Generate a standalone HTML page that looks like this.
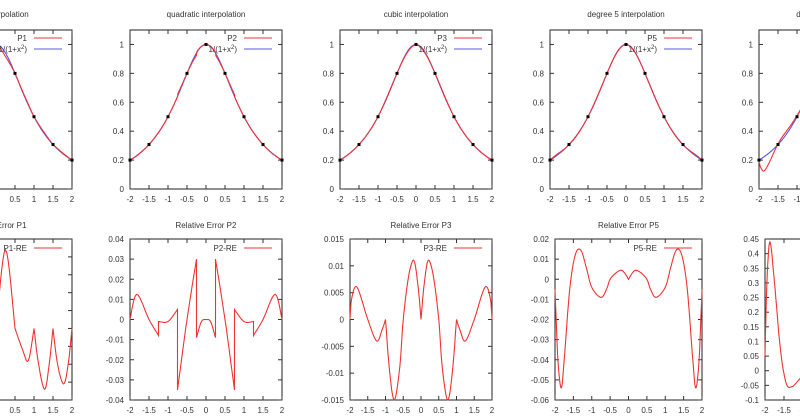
<!DOCTYPE html>
<html><head><meta charset="utf-8"><style>
html,body{margin:0;padding:0;background:#fff;width:800px;height:420px;overflow:hidden}
svg text{font-family:"Liberation Sans",sans-serif;font-size:8px;fill:#333}
</style></head><body>
<svg id="s" width="800" height="420" xmlns="http://www.w3.org/2000/svg"></svg>
<script>
(function(){
var S=document.getElementById('s'),h='';
function f(x){return 1/(1+x*x);}
function cc(a,b,c_,d,t){var t2=t*t,t3=t2*t;return 0.5*((2*b)+(-a+c_)*t+(2*a-5*b+4*c_-d)*t2+(-a+3*b-3*c_+d)*t3);}
function cr(pts,n){
  var out=[];
  for(var i=0;i<pts.length-1;i++){
    var p0=pts[Math.max(0,i-1)],p1=pts[i],p2=pts[i+1],p3=pts[Math.min(pts.length-1,i+2)];
    for(var k=0;k<n;k++){var t=k/n;
      out.push([cc(p0[0],p1[0],p2[0],p3[0],t),cc(p0[1],p1[1],p2[1],p3[1],t)]);}
  }
  out.push(pts[pts.length-1]);return out;
}
function mirror(segs){
  var r=segs.slice();
  for(var i=segs.length-1;i>=0;i--){r.push(segs[i].map(function(p){return[-p[0],p[1]];}).reverse());}
  return r;
}
var E={
 1:[[[-2,0],[-1.75,0.02],[-1.5,0]],[[-1.5,0],[-1.25,0.025],[-1,0]],[[-1,0],[-0.75,0.035],[-0.5,0]],[[-0.5,0],[-0.25,0.044],[0,0]],
    [[0,0],[0.25,0.044],[0.5,0]],[[0.5,0],[0.7,-0.012],[0.85,-0.018],[1,0]],[[1,0],[1.12,-0.02],[1.28,-0.034],[1.4,-0.02],[1.5,0]],[[1.5,0],[1.62,-0.02],[1.78,-0.031],[1.9,-0.02],[2,0]]],
 2:mirror([[[-2,0],[-1.82,0.0125],[-1.5,0],[-1.25,-0.008]],[[-1.25,-0.001],[-1,-0.001],[-0.75,0.005]],[[-0.75,-0.035],[-0.5,0],[-0.25,0.03]],[[-0.25,-0.009],[-0.12,-0.001],[0,0]]]),
 3:mirror([[[-2,0],[-1.95,0.004],[-1.8,0.006],[-1.5,0],[-1.25,-0.004],[-1.1,-0.002],[-1,0]],[[-1,0],[-0.88,-0.01],[-0.75,-0.015],[-0.6,-0.009],[-0.5,0],[-0.35,0.008],[-0.2,0.011],[-0.08,0.006],[0,0]]]),
 4:mirror([[[-2,-0.005],[-1.92,-0.04],[-1.83,-0.054],[-1.75,-0.04],[-1.6,-0.005],[-1.45,0.012],[-1.3,0.0145],[-1.15,0.006],[-1,-0.004],[-0.75,-0.009],[-0.6,-0.005],[-0.5,0],[-0.35,0.003],[-0.2,0.0045],[-0.1,0.003],[0,0]]]),
 5:[[[-2,0.05],[-1.95,0.3],[-1.87,0.44],[-1.75,0.3],[-1.6,0.08],[-1.45,-0.04],[-1.3,-0.055],[-1.1,-0.03],[-0.9,0.0],[-0.7,0.03],[-0.5,0.05]]]
};
var samp={};for(var k in E){samp[k]=E[k].map(function(s){return cr(s,8);});}
function evalE(id,x){
  var segs=samp[id];
  for(var i=0;i<segs.length;i++){var s=segs[i];
    if(x>=s[0][0]&&x<=s[s.length-1][0]){
      for(var j=0;j<s.length-1;j++){if(x>=s[j][0]&&x<=s[j+1][0]){var d=(s[j+1][0]-s[j][0])||1;var t=(x-s[j][0])/d;return s[j][1]+t*(s[j+1][1]-s[j][1]);}}
    }}
  return 0;
}
var names=['linear','quadratic','cubic','degree 5','degree 9'],lab=['P1','P2','P3','P5','P9'];
var tops=[[-80,72],[130,282],[340,492],[550,702],[759,911]];
var bots=[[-80,72],[130,282],[350,492],[555,702],[765,917]];
var brng=[[-0.04,0.05,0.01],[-0.04,0.04,0.01],[-0.015,0.015,0.005],[-0.06,0.02,0.01],[-0.1,0.45,0.05]];
function fmt(v){v=Math.round(v*1000)/1000;return (v+'');}
function frame(L,R,T,B,y0,y1,st,lbl){
  var g='';
  g+='<rect x="'+L+'" y="'+T+'" width="'+(R-L)+'" height="'+(B-T)+'" fill="none" stroke="#222" stroke-width="1"/>';
  for(var x=-2;x<=2.001;x+=0.5){var px=L+(x+2)/4*(R-L);
    g+='<line x1="'+px+'" y1="'+B+'" x2="'+px+'" y2="'+(B-4)+'" stroke="#333"/><line x1="'+px+'" y1="'+T+'" x2="'+px+'" y2="'+(T+4)+'" stroke="#333"/>';
    g+='<text x="'+px+'" y="'+(B+13)+'" text-anchor="middle">'+fmt(x)+'</text>';}
  var n=Math.round((y1-y0)/st);
  for(var i=0;i<=n;i++){var v=y0+i*st,py=B-(v-y0)/(y1-y0)*(B-T);
    if(lbl&&v>1.05)continue;
    g+='<line x1="'+L+'" y1="'+py+'" x2="'+(L+4)+'" y2="'+py+'" stroke="#333"/><line x1="'+R+'" y1="'+py+'" x2="'+(R-4)+'" y2="'+py+'" stroke="#333"/>';
    g+='<text x="'+(L-6)+'" y="'+(py+3)+'" text-anchor="end">'+fmt(v)+'</text>';}
  return g;
}
function path(pts,col){return '<polyline fill="none" stroke="'+col+'" stroke-width="1.1" points="'+pts.map(function(p){return p[0].toFixed(1)+','+p[1].toFixed(1);}).join(' ')+'"/>';}
for(var p=0;p<5;p++){
  var L=tops[p][0],R=tops[p][1],T=30,B=189,id=p+1;
  var X=function(x){return L+(x+2)/4*(R-L);},Y=function(y){return B-y/1.1*(B-T);};
  h+='<text x="'+((L+R)/2)+'" y="17" text-anchor="middle">'+names[p]+' interpolation</text>';
  h+=frame(L,R,T,B,0,1.1,0.2,true);
  var bl=[],rd=[];
  for(var i=0;i<=400;i++){var x=-2+i/100;bl.push([X(x),Y(f(x))]);rd.push([X(x),Y(f(x)*(1-evalE(id,x)*(p==4?1:0.6)))]);}
  h+=path(bl,'#5555ee')+path(rd,'#e33');
  for(var x=-2;x<=2.001;x+=0.5)h+='<rect x="'+(X(x)-1.5)+'" y="'+(Y(f(x))-1.5)+'" width="3" height="3" fill="#000"/>';
  h+='<text x="'+(R-45)+'" y="41" text-anchor="end">'+lab[p]+'</text><line x1="'+(R-38)+'" y1="38" x2="'+(R-10)+'" y2="38" stroke="#e33" stroke-width="1.1"/>';
  h+='<text x="'+(R-45)+'" y="52" text-anchor="end">1/(1+x<tspan dy="-3" font-size="6">2</tspan><tspan dy="3">)</tspan></text><line x1="'+(R-38)+'" y1="49" x2="'+(R-10)+'" y2="49" stroke="#5555ee" stroke-width="1.1"/>';
  var L2=bots[p][0],R2=bots[p][1],T2=239,B2=400,r=brng[p];
  var X2=function(x){return L2+(x+2)/4*(R2-L2);},Y2=function(y){return B2-(y-r[0])/(r[1]-r[0])*(B2-T2);};
  h+='<text x="'+((L2+R2)/2)+'" y="228" text-anchor="middle">Relative Error '+lab[p]+'</text>';
  h+=frame(L2,R2,T2,B2,r[0],r[1],r[2],false);
  var all=[];samp[id].forEach(function(s){all=all.concat(s);});
  h+=path(all.map(function(q){return[X2(q[0]),Y2(q[1])];}),'#e33');
  h+='<text x="'+(R2-45)+'" y="251" text-anchor="end">'+lab[p]+'-RE</text><line x1="'+(R2-38)+'" y1="248" x2="'+(R2-10)+'" y2="248" stroke="#e33" stroke-width="1.1"/>';
}
S.innerHTML=h;
})();
</script>
</body></html>
